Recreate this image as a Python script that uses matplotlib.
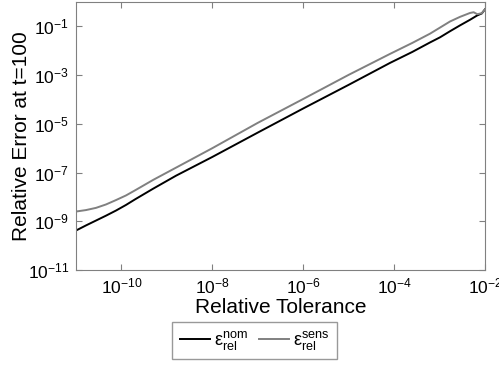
import numpy as np
import matplotlib
matplotlib.use("Agg")
from matplotlib import pyplot as plt
from matplotlib.ticker import FixedLocator, LogFormatterSciNotation, NullLocator

plt.rcParams['font.family'] = ['Liberation Sans', 'DejaVu Sans']
plt.rcParams['mathtext.fontset'] = 'custom'
plt.rcParams['mathtext.rm'] = 'Liberation Sans'
plt.rcParams['mathtext.it'] = 'Liberation Sans:italic'

# values, as log10
log_tol = [-11, -10.78, -10.56, -10.34, -10.12, -9.9, -9.7, -9.3, -8.8, -8.0,
           -7.0, -6.0, -5.0, -4.09, -3.6, -3.21, -2.99, -2.77, -2.55, -2.33,
           -2.25, -2.17, -2.07, -2.0]
log_err_nom = [-9.38, -9.17, -8.97, -8.77, -8.56, -8.33, -8.10, -7.66, -7.13,
               -6.36, -5.36, -4.37, -3.40, -2.50, -2.05, -1.66, -1.45, -1.20,
               -0.96, -0.73, -0.64, -0.55, -0.47, -0.30]
log_err_sens = [-8.60, -8.54, -8.45, -8.31, -8.13, -7.94, -7.73, -7.30, -6.80,
                -6.00, -4.96, -3.98, -2.99, -2.13, -1.68, -1.30, -1.05, -0.80,
                -0.61, -0.45, -0.42, -0.50, -0.46, -0.30]

x_ticks = [1e-10, 1e-8, 1e-6, 1e-4, 1e-2]
y_ticks = [1e-11, 1e-9, 1e-7, 1e-5, 1e-3, 1e-1]

tol = 10.0 ** np.array(log_tol)
nom = 10.0 ** np.array(log_err_nom)
sens = 10.0 ** np.array(log_err_sens)

fig = plt.figure(figsize=(4.99, 3.67), dpi=100)
ax = fig.add_axes([76 / 499, 97 / 367, 409 / 499, 268 / 367])

ax.loglog(tol, nom, color='black', lw=1.4, label=r'$\mathregular{\varepsilon_{rel}^{nom}}$')
ax.loglog(tol, sens, color='#808080', lw=1.4, label=r'$\mathregular{\varepsilon_{rel}^{sens}}$')

ax.set_xlim(1e-11, 1e-2)
ax.set_ylim(1e-11, 1e0)
ax.xaxis.set_major_locator(FixedLocator(x_ticks))
ax.yaxis.set_major_locator(FixedLocator(y_ticks))
ax.xaxis.set_major_formatter(LogFormatterSciNotation())
ax.yaxis.set_major_formatter(LogFormatterSciNotation())
ax.xaxis.set_minor_locator(NullLocator())
ax.yaxis.set_minor_locator(NullLocator())

axis_gray = '#808080'
for s in ax.spines.values():
    s.set_color(axis_gray)
ax.tick_params(direction='in', top=True, right=True, length=4,
               color=axis_gray, labelsize=12.5, labelcolor='black', pad=5)

ax.set_xlabel('Relative Tolerance', fontsize=15)
ax.set_ylabel('Relative Error at t=100', fontsize=15)
ax.xaxis.set_label_coords(0.5, -0.105)
ax.yaxis.set_label_coords(-0.11, 0.5)

leg = fig.legend(loc='center', bbox_to_anchor=(254.5 / 499, 26.5 / 367),
                 ncol=2, fontsize=13, handlelength=1.7, handletextpad=0.2,
                 columnspacing=0.6, fancybox=False, borderpad=0.4)
leg.get_frame().set_edgecolor(axis_gray)
leg.get_frame().set_linewidth(1.0)

fig.savefig('out.png', dpi=100)
